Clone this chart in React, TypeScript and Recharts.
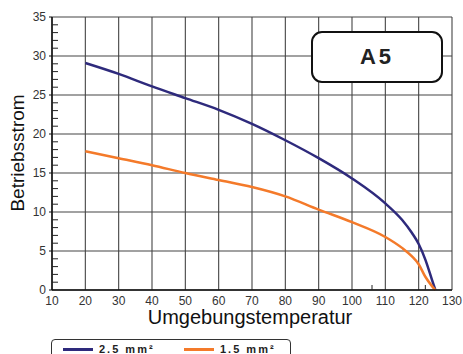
import React from 'react';
import { LineChart, Line, XAxis, YAxis, CartesianGrid } from 'recharts';

const temps = [20, 30, 40, 50, 60, 70, 80, 90, 100, 110, 115, 118, 120, 122, 124, 125];
const current25 = [29.1, 27.7, 26.1, 24.6, 23.1, 21.3, 19.2, 16.9, 14.3, 11.1, 9.0, 7.3, 5.9, 3.9, 1.3, 0];
const current15 = [17.8, 16.9, 16.0, 15.0, 14.1, 13.2, 12.0, 10.3, 8.7, 6.8, 5.4, 4.3, 3.3, 1.7, 0.5, 0];

const xTicks = [10, 20, 30, 40, 50, 60, 70, 80, 90, 100, 110, 120, 130];
const xMinorTicks = [12, 14, 16, 18, 22, 24, 26, 28, 32, 34, 36, 38, 42, 44, 46, 48, 52, 54, 56, 58, 62, 64, 66, 68, 72, 74, 76, 78, 82, 84, 86, 88, 92, 94, 96, 98, 102, 104, 106, 108, 112, 114, 116, 118, 122, 124, 126, 128];
const yTicks = [0, 5, 10, 15, 20, 25, 30, 35];
const yMinorTicks = [1, 2, 3, 4, 6, 7, 8, 9, 11, 12, 13, 14, 16, 17, 18, 19, 21, 22, 23, 24, 26, 27, 28, 29, 31, 32, 33, 34];

const seriesNames = ['2.5 mm²', '1.5 mm²'];
const seriesColors = ['#2e2a7c', '#f47a2a'];

const data = temps.map((t, i) => ({ t, a: current25[i], b: current15[i] }));

const font = '"Liberation Sans", Arial, sans-serif';
const tickStyle = { fontSize: 12, fill: '#333', fontFamily: font };

const App: React.FC = () => {
  return (
    <div style={{ position: 'absolute', left: 0, top: 0, width: 463, height: 354, background: '#fff', fontFamily: font }}>
      <LineChart width={463} height={354} data={data} margin={{ top: 17, right: 11, bottom: 44, left: 0 }}>
        <CartesianGrid stroke="#444" strokeWidth={1.1} />
        <XAxis
          dataKey="t"
          type="number"
          domain={[10, 130]}
          ticks={xTicks}
          height={20}
          tickLine={false}
          tickMargin={0}
          axisLine={{ stroke: '#111', strokeWidth: 1.5 }}
          tick={tickStyle}
          interval={0}
        />
        <XAxis
          xAxisId="minor"
          type="number"
          domain={[10, 130]}
          allowDataOverflow
          ticks={xMinorTicks}
          mirror
          axisLine={false}
          tickSize={5}
          tickLine={{ stroke: '#222' }}
          tickFormatter={() => ''}
          interval={0}
        />
        <YAxis
          type="number"
          domain={[0, 35]}
          ticks={yTicks}
          width={52}
          tickSize={3}
          tickMargin={3}
          tickLine={{ stroke: '#111' }}
          axisLine={{ stroke: '#111', strokeWidth: 1.5 }}
          tick={tickStyle}
          interval={0}
        />
        <YAxis
          yAxisId="minor"
          type="number"
          domain={[0, 35]}
          allowDataOverflow
          ticks={yMinorTicks}
          mirror
          axisLine={false}
          tickSize={6}
          tickLine={{ stroke: '#222' }}
          tickFormatter={() => ''}
          interval={0}
        />
        <Line type="monotone" dataKey="a" name={seriesNames[0]} stroke={seriesColors[0]} strokeWidth={2.5} dot={false} isAnimationActive={false} />
        <Line type="monotone" dataKey="b" name={seriesNames[1]} stroke={seriesColors[1]} strokeWidth={2.5} dot={false} isAnimationActive={false} />
      </LineChart>

      {/* axis titles */}
      <div style={{ position: 'absolute', left: 18, top: 153, transform: 'translate(-50%, -50%) rotate(-90deg)', fontSize: 19, whiteSpace: 'nowrap', color: '#111' }}>
        Betriebsstrom
      </div>
      <div style={{ position: 'absolute', left: 250, top: 317, transform: 'translate(-50%, -50%)', fontSize: 20, lineHeight: '20px', whiteSpace: 'nowrap', color: '#111' }}>
        Umgebungstemperatur
      </div>

      {/* A5 tag */}
      <div style={{ position: 'absolute', left: 311, top: 31, width: 128, height: 48, border: '2px solid #111', borderRadius: 11, background: '#fff', display: 'flex', alignItems: 'center', justifyContent: 'center', fontSize: 22, fontWeight: 'bold', letterSpacing: 3, color: '#222' }}>
        A5
      </div>

      {/* legend */}
      <div style={{ position: 'absolute', left: 51, top: 339, width: 238, height: 20, border: '1px solid #333', borderRadius: 4, background: '#fff' }}>
        {seriesNames.map((name, i) => (
          <div key={name} style={{ position: 'absolute', left: i === 0 ? 11 : 132, top: 3, display: 'flex', alignItems: 'center', whiteSpace: 'nowrap' }}>
            <span style={{ display: 'inline-block', width: 30, height: 3, background: seriesColors[i], marginRight: 6 }} />
            <span style={{ fontSize: 11, fontWeight: 'bold', letterSpacing: 2, color: '#222' }}>{name}</span>
          </div>
        ))}
      </div>
    </div>
  );
};

export default App;
